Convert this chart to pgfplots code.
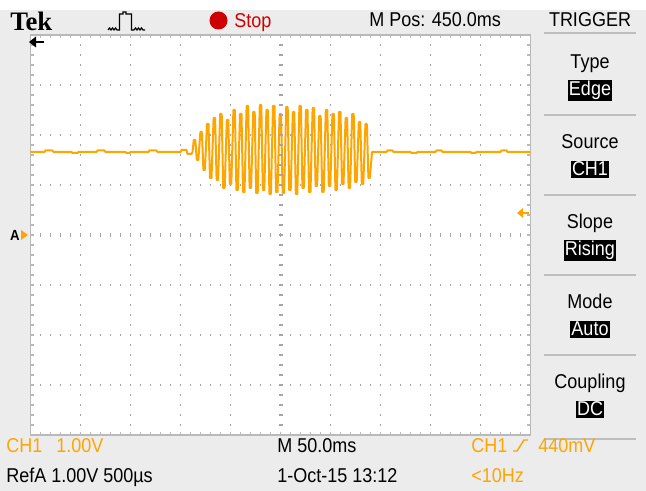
\documentclass[border=0pt]{standalone}
\usepackage{pgfplots}
\pgfplotsset{compat=1.18}
\usepackage{fontspec}
\setmainfont{Liberation Sans}[FakeStretch=0.9]
\newfontfamily\tekfont{Liberation Serif}
\definecolor{bg}{RGB}{236,236,236}
\definecolor{tekorange}{RGB}{255,165,0}
\definecolor{gridc}{RGB}{165,165,165}
\definecolor{framec}{RGB}{185,185,185}
\definecolor{sepc}{RGB}{190,190,190}
\definecolor{stopred}{RGB}{204,0,0}
\begin{document}
\begin{tikzpicture}
\begin{scope}[x=0.75pt,y=-0.75pt]
\fill[white] (0,0) rectangle (646,491);
\fill[bg] (0,10) rectangle (646,491);
\end{scope}
\begin{axis}[at={(22.875pt,-326.25pt)}, anchor=south west,
  width=375pt, height=300pt, scale only axis,
  xmin=0, xmax=500, ymin=0, ymax=400,
  axis background/.style={fill=white},
  axis line style={framec, line width=0.9pt},
  xtick={50,100,...,450}, ytick={50,100,...,350},
  xticklabels={}, yticklabels={}, major tick length=0pt,
  grid=major,
  major grid style={gridc, line width=0.9pt, dash pattern=on 0.9pt off 6.6pt, dash phase=0.45pt},
  clip=true]
\addplot[tekorange, line width=1.5pt, line join=round] coordinates {
(0,283) (14,283) (15,284.5) (22,284.5) (23,283) (41,283) (42,282) (47,282) (48,283)
(66,283) (67,284.5) (74,284.5) (75,283) (95,283) (96,282) (99,282) (100,283)
(118,283) (119,284.5) (126,284.5) (127,283) (150,283) (151,285) (156,285) (157,281) (161,281) (162,283)
(163.3,295) (164.8,295) (166.3,275) (167.8,275)
(169.9,303) (171.4,303) (172.9,265) (174.4,265)
(176.5,311) (178.0,311) (179.5,257) (181.0,257)
(183.1,317) (184.6,317) (186.1,255) (187.6,255)
(189.7,321) (191.2,321) (192.7,247) (194.2,247)
(196.3,315) (197.8,315) (199.3,251) (200.8,251)
(202.9,325) (204.4,325) (205.9,245) (207.4,245)
(209.5,321) (211.0,321) (212.5,243) (214.0,243)
(216.1,329) (217.6,329) (219.1,247) (220.6,247)
(222.7,323) (224.2,323) (225.7,242) (227.2,242)
(229.3,330) (230.8,330) (232.3,245) (233.8,245)
(235.9,325) (237.4,325) (238.9,241) (240.4,241)
(242.5,329) (244.0,329) (245.5,243) (247.0,243)
(249.1,321) (250.6,321) (252.1,242) (253.6,242)
(255.7,328) (257.2,328) (258.7,245) (260.2,245)
(262.3,323) (263.8,323) (265.3,241) (266.8,241)
(268.9,329) (270.4,329) (271.9,247) (273.4,247)
(275.5,325) (277.0,325) (278.5,243) (280.0,243)
(282.1,327) (283.6,327) (285.1,249) (286.6,249)
(288.7,319) (290.2,319) (291.7,243) (293.2,243)
(295.3,325) (296.8,325) (298.3,249) (299.8,249)
(301.9,321) (303.4,321) (304.9,245) (306.4,245)
(308.5,323) (310.0,323) (311.5,251) (313.0,251)
(315.1,317) (316.6,317) (318.1,247) (319.6,247)
(321.7,321) (323.2,321) (324.7,253) (326.2,253)
(328.3,313) (329.8,313) (331.3,251) (332.8,251)
(334.9,311) (336.4,311) (337.9,257) (339.4,257)
(341.5,283) (356,283) (357,284.5) (362,284.5) (363,283) (380,283) (381,282) (386,282) (387,283)
(405,283) (406,284.5) (411,284.5) (412,283) (440,283) (441,282) (445,282) (446,283)
(470,283) (471,284.5) (476,284.5) (477,283) (500,283)
};
\end{axis}
\begin{scope}[x=0.75pt,y=-0.75pt]
% border ticks
\foreach \i in {1,...,49} {
  \draw[framec, line width=0.9pt] ({30.5+10*\i},35) -- ++(0,3.5);
  \draw[framec, line width=0.9pt] ({30.5+10*\i},435) -- ++(0,-3.5);
  \draw[gridc, line width=0.9pt] ({30.5+10*\i},233) -- ++(0,4);
}
\foreach \j in {1,...,39} {
  \draw[framec, line width=0.9pt] (30.5,{35+10*\j}) -- ++(3.5,0);
  \draw[framec, line width=0.9pt] (530.5,{35+10*\j}) -- ++(-3.5,0);
  \draw[gridc, line width=0.9pt] (278.5,{35+10*\j}) -- ++(4,0);
}
% top bar
\node[anchor=base west, inner sep=0, font={\tekfont\bfseries\fontsize{20}{24}\selectfont}] at (10,31) {Tek};
\draw[black, line width=0.9pt] (108,30) -- (109.5,28) -- (111,30) -- (112.5,28) -- (114,30) -- (115.5,28) -- (117,30) -- (119.5,30) -- (119.5,14) -- (123,14) -- (123,12) -- (126,12) -- (126,14) -- (131.5,14) -- (131.5,30) -- (134,30) -- (135.5,28) -- (137,30) -- (138.5,28) -- (140,30) -- (141.5,28) -- (143,30) -- (145,30);
\fill[stopred] (218.5,20.5) circle (9);
\node[anchor=base west, inner sep=0, text=stopred, font={\fontsize{15}{18}\selectfont}] at (234,28) {Stop};
\node[anchor=base west, inner sep=0, font={\fontsize{15}{18}\selectfont}] at (369,27) {M Pos: 450.0ms};
\node[anchor=base, inner sep=0, font={\fontsize{15}{18}\selectfont}] at (590,27) {TRIGGER};
% markers
\fill[black] (29,42) -- (36,36.5) -- (36,47.5) -- cycle;
\draw[black, line width=2.2pt] (35,42) -- (44,42);
\node[inner sep=0, font={\bfseries\fontsize{11}{12}\selectfont}] at (15,235.5) {A};
\fill[tekorange] (28,235) -- (21,230) -- (21,240) -- cycle;
\fill[tekorange] (517,213) -- (523,208) -- (523,218) -- cycle;
\draw[tekorange, line width=2.2pt] (522,213) -- (529,213);
% right panel
\foreach \yy in {33,115,195,275,355,439} \draw[sepc, line width=1.2pt] (544,\yy) -- (636,\yy);
\begin{scope}[every node/.style={anchor=base, inner sep=0, font={\fontsize{15}{18}\selectfont}}]
\node at (590,69) {Type};
\node at (590,149) {Source};
\node at (590,229) {Slope};
\node at (590,309) {Mode};
\node at (590,389) {Coupling};
\end{scope}
\begin{scope}[every node/.style={anchor=base, inner sep=1pt, fill=black, text=white, font={\fontsize{15}{18}\selectfont}}]
\node at (590,96) {Edge};
\node at (590,176) {CH1};
\node at (590,256) {Rising};
\node at (590,336) {Auto};
\node at (590,416) {DC};
\end{scope}
% bottom
\begin{scope}[every node/.style={anchor=base west, inner sep=0, font={\fontsize{15}{18}\selectfont}}]
\node[text=tekorange] at (6,452) {CH1};
\node[text=tekorange] at (56,452) {1.00V};
\node at (6,482) {RefA 1.00V 500µs};
\node at (277,452) {M 50.0ms};
\node at (277,482) {1-Oct-15 13:12};
\node[text=tekorange] at (471,452) {CH1};
\node[text=tekorange] at (538,452) {440mV};
\node[text=tekorange] at (471,482) {<10Hz};
\end{scope}
\draw[tekorange, line width=1.1pt] (513,451) -- (517,451) -- (524,440) -- (528,440);
\end{scope}
\end{tikzpicture}
\end{document}
